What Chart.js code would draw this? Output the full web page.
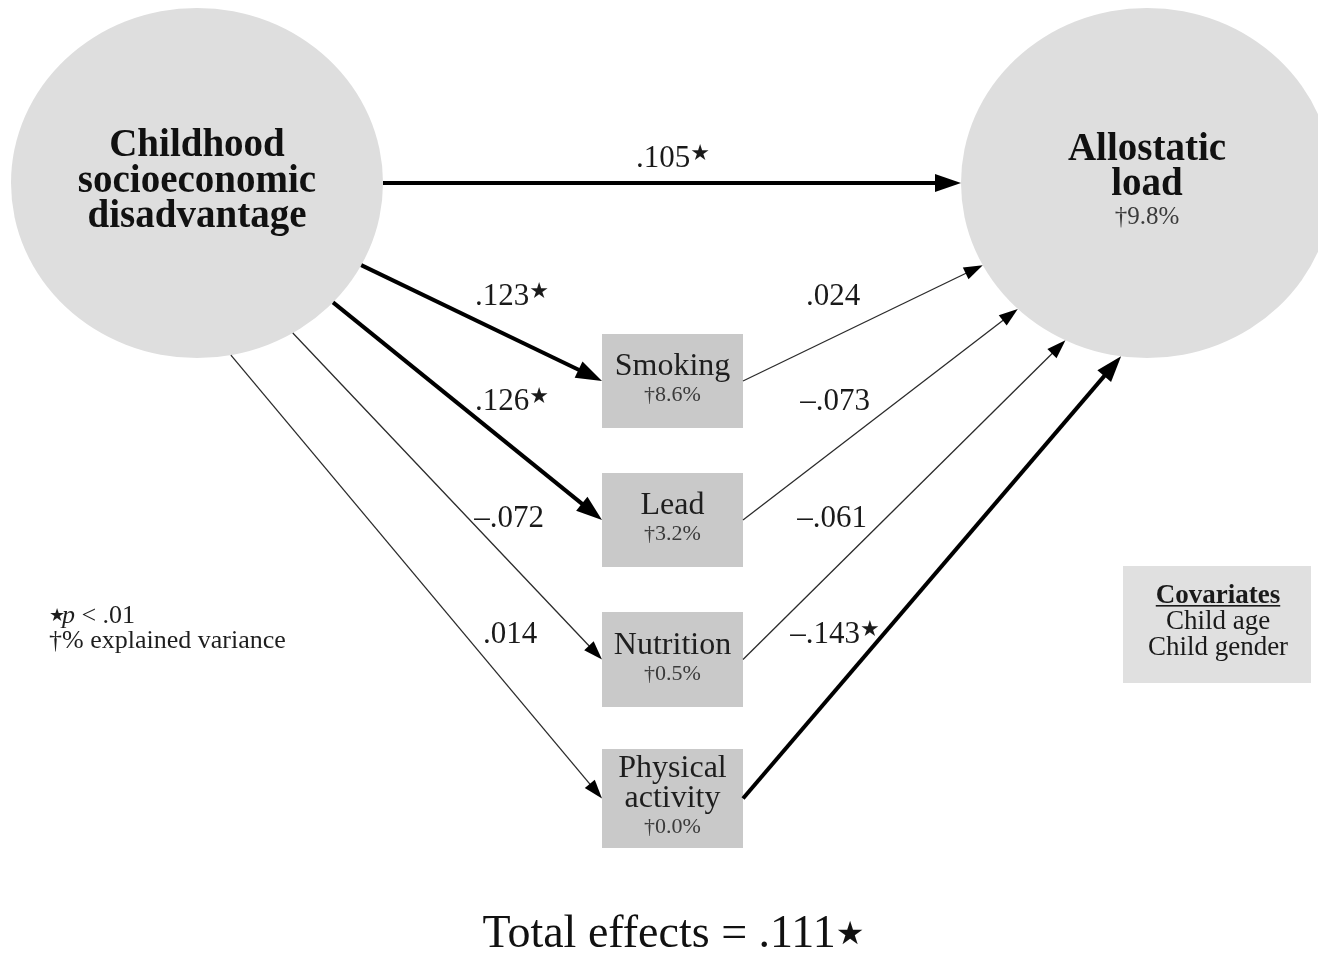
<!DOCTYPE html>
<html>
<head>
<meta charset="utf-8">
<title>Childhood socioeconomic disadvantage and allostatic load</title>
<script src="https://cdn.jsdelivr.net/npm/chart.js@4.4.1/dist/chart.umd.min.js"></script>
<style>
  html, body { margin: 0; padding: 0; background: #ffffff; }
  #wrap { position: relative; width: 1318px; height: 954px; }
</style>
</head>
<body>
<div id="wrap"><canvas id="diagram"></canvas></div>
<script>
// ---- Model values ----
const exposureName = ['Childhood', 'socioeconomic', 'disadvantage'];
const outcomeName = ['Allostatic', 'load'];
const outcomeVariance = 9.8;
const mediatorNames = [['Smoking'], ['Lead'], ['Nutrition'], ['Physical', 'activity']];
const mediatorVariance = [8.6, 3.2, 0.5, 0.0];
const exposureToMediator = [0.123, 0.126, -0.072, 0.014];
const exposureToMediatorSig = [true, true, false, false];
const mediatorToOutcome = [0.024, -0.073, -0.061, -0.143];
const mediatorToOutcomeSig = [false, false, false, true];
const directEffect = 0.105;
const directSig = true;
const totalEffect = 0.111;
const totalSig = true;
const covariateTitle = 'Covariates';
const covariates = ['Child age', 'Child gender'];
const noteSig = ['p', ' < .01'];
const noteVariance = '†% explained variance';

// ---- Layout (value space equals canvas pixels) ----
const W = 1318, H = 954;
const layout = {
  exposure: { cx: 197, cy: 183, rx: 186, ry: 175 },
  outcome: { cx: 1147, cy: 183, rx: 186, ry: 175 },
  boxX: 602, boxW: 141,
  boxTop: [334, 473, 612, 749],
  boxBottom: [428, 567, 707, 848],
  exposurePort: [28, 43, 59, 79.5],
  outcomePort: [152, 134, 116, 98],
  aLabelX: [511, 511, 509, 510],
  bLabelX: [833, 835, 832, 834],
  labelBaseline: [305, 410, 527, 643],
  direct: { x: 672, baseline: 167 },
  covBox: { x: 1123, y: 566, w: 188, h: 117 },
  total: { x: 672, baseline: 947 },
  note: { x: 49, baseline1: 623, baseline2: 648 }
};

const SERIF = '"Liberation Serif", "DejaVu Serif", serif';
const STARFONT = '"DejaVu Sans", sans-serif';

function fmtCoef(v) {
  const s = '.' + String(Math.round(Math.abs(v) * 1000)).padStart(3, '0');
  return (v < 0 ? '–' : '') + s;
}
function fmtPct(v) { return '†' + v.toFixed(1) + '%'; }
const rad = d => d * Math.PI / 180;
function ellipsePoint(e, deg) {
  return { x: e.cx + e.rx * Math.cos(rad(deg)), y: e.cy + e.ry * Math.sin(rad(deg)) };
}
function arrowStyle(sig) {
  return sig
    ? { width: 4, color: '#000000', headLen: 26, headHalf: 9 }
    : { width: 1.3, color: '#2b2b2b', headLen: 19, headHalf: 6.5 };
}

// ---- Build path segments ----
const paths = [];
{
  const e = layout.exposure, o = layout.outcome;
  paths.push({
    from: ellipsePoint(e, 0), tip: ellipsePoint(o, 180),
    value: directEffect, sig: directSig, lx: layout.direct.x, lb: layout.direct.baseline
  });
  mediatorNames.forEach((_, i) => {
    const midY = (layout.boxTop[i] + layout.boxBottom[i]) / 2;
    paths.push({
      from: ellipsePoint(e, layout.exposurePort[i]),
      tip: { x: layout.boxX, y: midY },
      value: exposureToMediator[i], sig: exposureToMediatorSig[i],
      lx: layout.aLabelX[i], lb: layout.labelBaseline[i]
    });
    paths.push({
      from: { x: layout.boxX + layout.boxW, y: midY },
      tip: ellipsePoint(o, layout.outcomePort[i]),
      value: mediatorToOutcome[i], sig: mediatorToOutcomeSig[i],
      lx: layout.bLabelX[i], lb: layout.labelBaseline[i]
    });
  });
}

const datasets = paths.map(p => {
  const st = arrowStyle(p.sig);
  const dx = p.tip.x - p.from.x, dy = p.tip.y - p.from.y;
  const len = Math.hypot(dx, dy);
  const base = { x: p.tip.x - dx / len * st.headLen * 0.8, y: p.tip.y - dy / len * st.headLen * 0.8 };
  return {
    data: [p.from, base],
    showLine: true,
    borderColor: st.color,
    borderWidth: st.width,
    borderCapStyle: 'butt',
    pointRadius: 0,
    pointHoverRadius: 0,
    fill: false,
    tension: 0,
    pathInfo: p
  };
});

// Draws text followed by a significance star
function drawCoef(ctx, text, star, cx, baseline, size, starSize, starRise, color) {
  ctx.font = size + 'px ' + SERIF;
  const tw = ctx.measureText(text).width;
  let sw = 0;
  if (star) {
    ctx.font = starSize + 'px ' + STARFONT;
    sw = ctx.measureText('★').width * 0.9;
  }
  const x0 = cx - (tw + sw) / 2;
  ctx.fillStyle = color;
  ctx.textAlign = 'left';
  ctx.textBaseline = 'alphabetic';
  ctx.font = size + 'px ' + SERIF;
  ctx.fillText(text, x0, baseline);
  if (star) {
    ctx.font = starSize + 'px ' + STARFONT;
    ctx.fillText('★', x0 + tw, baseline - starRise);
  }
}

const diagramPlugin = {
  id: 'pathDiagram',
  beforeDatasetsDraw(chart) {
    const { ctx, scales: { x, y } } = chart;
    const px = v => x.getPixelForValue(v), py = v => y.getPixelForValue(v);
    ctx.save();
    // latent variables
    [layout.exposure, layout.outcome].forEach(e => {
      ctx.beginPath();
      ctx.ellipse(px(e.cx), py(e.cy), e.rx, e.ry, 0, 0, Math.PI * 2);
      ctx.fillStyle = '#dedede';
      ctx.fill();
    });
    // mediator boxes
    mediatorNames.forEach((_, i) => {
      ctx.fillStyle = '#c9c9c9';
      ctx.fillRect(px(layout.boxX), py(layout.boxTop[i]), layout.boxW, layout.boxBottom[i] - layout.boxTop[i]);
    });
    // covariate box
    const cb = layout.covBox;
    ctx.fillStyle = '#e0e0e0';
    ctx.fillRect(px(cb.x), py(cb.y), cb.w, cb.h);
    ctx.restore();
  },
  afterDatasetsDraw(chart) {
    const { ctx, scales: { x, y } } = chart;
    const px = v => x.getPixelForValue(v), py = v => y.getPixelForValue(v);
    ctx.save();

    // arrowheads and coefficients
    chart.data.datasets.forEach(ds => {
      const p = ds.pathInfo;
      const st = arrowStyle(p.sig);
      const tx = px(p.tip.x), ty = py(p.tip.y);
      const fx = px(p.from.x), fy = py(p.from.y);
      const a = Math.atan2(ty - fy, tx - fx);
      const bx = tx - Math.cos(a) * st.headLen, by = ty - Math.sin(a) * st.headLen;
      ctx.beginPath();
      ctx.moveTo(tx, ty);
      ctx.lineTo(bx + Math.sin(a) * st.headHalf, by - Math.cos(a) * st.headHalf);
      ctx.lineTo(bx - Math.sin(a) * st.headHalf, by + Math.cos(a) * st.headHalf);
      ctx.closePath();
      ctx.fillStyle = '#000000';
      ctx.fill();
      drawCoef(ctx, fmtCoef(p.value), p.sig, px(p.lx), py(p.lb), 31, 22, 7, '#1a1a1a');
    });

    ctx.textAlign = 'center';
    ctx.textBaseline = 'alphabetic';

    // exposure label
    ctx.fillStyle = '#111111';
    ctx.font = 'bold 39px ' + SERIF;
    exposureName.forEach((t, i) => ctx.fillText(t, px(layout.exposure.cx), py(156 + i * 35.5)));

    // outcome label
    outcomeName.forEach((t, i) => ctx.fillText(t, px(layout.outcome.cx), py(160 + i * 35)));
    ctx.fillStyle = '#3a3a3a';
    ctx.font = '25px ' + SERIF;
    ctx.fillText(fmtPct(outcomeVariance), px(layout.outcome.cx), py(224));

    // mediator labels
    mediatorNames.forEach((lines, i) => {
      const cx = layout.boxX + layout.boxW / 2;
      const mid = (layout.boxTop[i] + layout.boxBottom[i]) / 2;
      const start = mid - 6 - 15.5 * (lines.length - 1);
      ctx.fillStyle = '#1e1e1e';
      ctx.font = '32px ' + SERIF;
      lines.forEach((t, j) => ctx.fillText(t, px(cx), py(start + j * 30)));
      ctx.fillStyle = '#3a3a3a';
      ctx.font = '22px ' + SERIF;
      ctx.fillText(fmtPct(mediatorVariance[i]), px(cx), py(start + (lines.length - 1) * 30 + 26));
    });

    // covariates
    const cb = layout.covBox;
    const ccx = px(cb.x + cb.w / 2 + 1);
    ctx.fillStyle = '#1a1a1a';
    ctx.font = 'bold 27px ' + SERIF;
    ctx.fillText(covariateTitle, ccx, py(603));
    const tw = ctx.measureText(covariateTitle).width;
    ctx.fillRect(ccx - tw / 2, py(605), tw, 1.6);
    ctx.font = '27px ' + SERIF;
    covariates.forEach((t, i) => ctx.fillText(t, ccx, py(629 + i * 26)));

    // notes
    const n = layout.note;
    ctx.textAlign = 'left';
    ctx.fillStyle = '#1e1e1e';
    ctx.font = '18px ' + STARFONT;
    ctx.fillText('★', px(n.x), py(n.baseline1) - 2);
    let nx = px(n.x) + ctx.measureText('★').width * 0.8;
    ctx.font = 'italic 26px ' + SERIF;
    ctx.fillText(noteSig[0], nx, py(n.baseline1));
    nx += ctx.measureText(noteSig[0]).width;
    ctx.font = '26px ' + SERIF;
    ctx.fillText(noteSig[1], nx, py(n.baseline1));
    ctx.fillText(noteVariance, px(n.x), py(n.baseline2));

    // total effect
    drawCoef(ctx, 'Total effects = ' + fmtCoef(totalEffect), totalSig,
      px(layout.total.x), py(layout.total.baseline), 46, 32, 3, '#111111');

    ctx.restore();
  }
};

new Chart(document.getElementById('diagram'), {
  type: 'scatter',
  data: { datasets },
  options: {
    responsive: true,
    maintainAspectRatio: false,
    animation: false,
    events: [],
    layout: { padding: 0 },
    plugins: { legend: { display: false }, tooltip: { enabled: false }, title: { display: false } },
    scales: {
      x: { type: 'linear', min: 0, max: W, display: false },
      y: { type: 'linear', min: 0, max: H, reverse: true, display: false }
    }
  },
  plugins: [diagramPlugin]
});
</script>
</body>
</html>
